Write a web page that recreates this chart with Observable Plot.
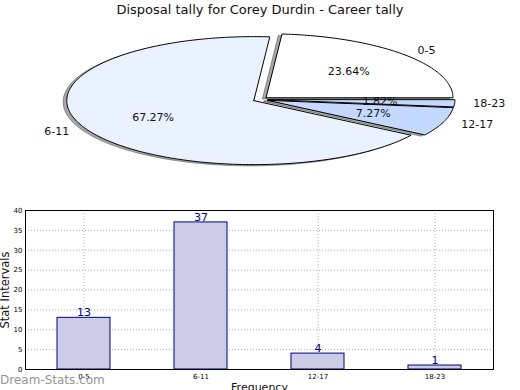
<!DOCTYPE html>
<html>
<head>
<meta charset="utf-8">
<script src="https://cdn.jsdelivr.net/npm/d3@7"></script>
<script src="https://cdn.jsdelivr.net/npm/@observablehq/plot@0.6"></script>
<style>
  html, body { margin: 0; padding: 0; background: #fff; }
  #wrap { position: relative; width: 520px; height: 390px; overflow: hidden; font-family: "DejaVu Sans", sans-serif; }
  #title { position: absolute; top: 2px; left: 0; width: 520px; text-align: center; font-size: 13px; color: #111; }
  #pie { position: absolute; top: 0; left: 0; }
  #bar { position: absolute; top: 200px; left: 0; }
  #mark { position: absolute; left: 0px; top: 373px; font-size: 12px; color: #8a8a8a; opacity: 0.9; }
</style>
</head>
<body>
<div id="wrap">
  <div id="pie"></div>
  <div id="title">Disposal tally for Corey Durdin - Career tally</div>
  <div id="bar"></div>
  <div id="mark">Dream-Stats.com</div>
</div>
<script>
const categories = ["0-5", "6-11", "12-17", "18-23"];
const values = [13, 37, 4, 1];
const pieColors = ["#ffffff", "#eaf2ff", "#c5d9ff", "#c5d9ff"];
const yTicks = [0, 5, 10, 15, 20, 25, 30, 35, 40];

const explode = 0.04;
const total = d3.sum(values);

// build slice polygons (unit radius; scales turn them into an ellipse)
const slicePts = [];
const shadowPts = [];
const labels = [];
let acc = 0;
values.forEach((v, i) => {
  const a0 = acc / total * 2 * Math.PI;
  acc += v;
  const a1 = acc / total * 2 * Math.PI;
  const mid = (a0 + a1) / 2;
  const cx = explode * Math.cos(mid), cy = explode * Math.sin(mid);
  const pts = [[cx, cy]];
  const n = Math.max(4, Math.ceil((a1 - a0) / (Math.PI / 180)));
  for (let k = 0; k <= n; k++) {
    const a = a0 + (a1 - a0) * k / n;
    pts.push([cx + Math.cos(a), cy + Math.sin(a)]);
  }
  pts.push([cx, cy]);
  pts.forEach(p => {
    slicePts.push({cat: categories[i], x: p[0], y: p[1], fill: pieColors[i]});
    shadowPts.push({cat: categories[i], x: p[0] - 0.02, y: p[1] - 0.02});
  });
  const c = Math.cos(mid);
  labels.push({
    text: categories[i],
    x: cx + 1.1 * Math.cos(mid), y: cy + 1.1 * Math.sin(mid),
    anchor: c > 0 ? "start" : "end"
  });
  labels.push({
    text: (v / total * 100).toFixed(2) + "%",
    x: cx + 0.6 * Math.cos(mid), y: cy + 0.6 * Math.sin(mid),
    anchor: "middle"
  });
});

const pie = Plot.plot({
  width: 520, height: 200,
  margin: 0,
  x: {domain: [-1, 1], range: [73, 447], axis: null},
  y: {domain: [-1, 1], range: [163, 35], axis: null},
  style: {fontFamily: "DejaVu Sans, sans-serif", background: "transparent"},
  marks: [
    Plot.line(shadowPts, {x: "x", y: "y", z: "cat", fill: "#000", fillOpacity: 0.35, stroke: "#000", strokeOpacity: 0.3, strokeWidth: 1, curve: "linear"}),
    Plot.line(slicePts, {x: "x", y: "y", z: "cat", fill: "fill", stroke: "#000", strokeWidth: 1, strokeLinejoin: "miter", curve: "linear"}),
    Plot.text(labels.filter(d => d.anchor === "start"), {x: "x", y: "y", text: "text", textAnchor: "start", fontSize: 11, fill: "#111"}),
    Plot.text(labels.filter(d => d.anchor === "end"), {x: "x", y: "y", text: "text", textAnchor: "end", fontSize: 11, fill: "#111"}),
    Plot.text(labels.filter(d => d.anchor === "middle"), {x: "x", y: "y", text: "text", textAnchor: "middle", fontSize: 11, fill: "#111"})
  ]
});
document.getElementById("pie").appendChild(pie);

const barData = categories.map((c, i) => ({cat: c, value: values[i]}));

const bar = Plot.plot({
  width: 520, height: 190,
  marginLeft: 25, marginRight: 27, marginTop: 10, marginBottom: 21,
  x: {domain: categories, paddingInner: 0.55, paddingOuter: 0.275, label: null},
  y: {domain: [0, 40], label: null},
  style: {fontFamily: "DejaVu Sans, sans-serif", background: "transparent"},
  marks: [
    Plot.ruleY(yTicks.slice(1, -1), {stroke: "#b0b0b0", strokeDasharray: "1,2", strokeWidth: 1}),
    Plot.ruleX(categories, {x: d => d, stroke: "#b0b0b0", strokeDasharray: "1,2", strokeWidth: 1}),
    Plot.barY(barData, {x: "cat", y: "value", fill: "#cccce6", stroke: "#000080", strokeWidth: 1}),
    Plot.text(barData, {x: "cat", y: "value", text: d => String(d.value), dy: -5, fill: "#000080", fontSize: 11}),
    Plot.frame({stroke: "#000", strokeWidth: 1}),
    Plot.axisY({ticks: yTicks, tickSize: 0, tickPadding: 3, fontSize: 7, label: null}),
    Plot.axisX({tickSize: 0, tickPadding: 5, fontSize: 7, label: null}),
    Plot.text(["Stat Intervals"], {text: d => d, frameAnchor: "left", textAnchor: "middle", rotate: -90, dx: -20, fontSize: 11.5, fill: "#111"}),
    Plot.text(["Frequency"], {text: d => d, frameAnchor: "bottom", textAnchor: "middle", dy: 14, lineAnchor: "top", fontSize: 11, fill: "#111"})
  ]
});
document.getElementById("bar").appendChild(bar);
</script>
</body>
</html>
